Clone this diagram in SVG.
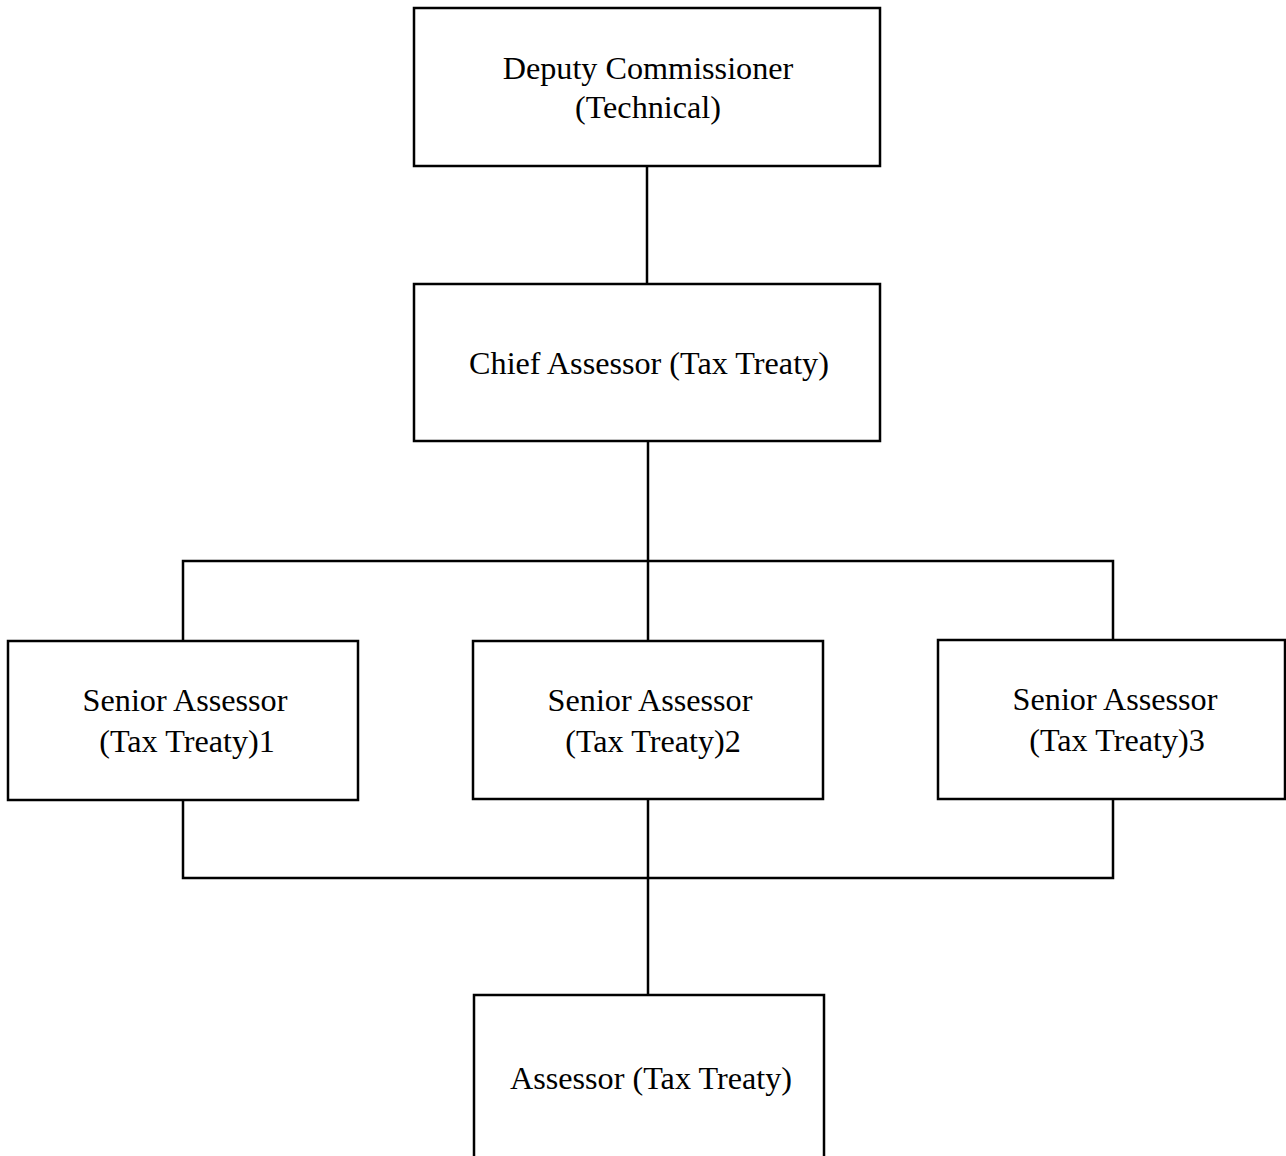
<svg xmlns="http://www.w3.org/2000/svg" width="1286" height="1156" viewBox="0 0 1286 1156">
<style>
.box{fill:#fff;stroke:#000;stroke-width:2.5}
.lbl{font-family:"Liberation Serif","Times New Roman",serif;font-size:32.2px;fill:#000;text-anchor:middle}
.conn{stroke:#000;stroke-width:2.5;fill:none}
</style>
<rect width="1286" height="1156" fill="#fff"/>
<g id="connectors">
<line class="conn" x1="647" y1="166" x2="647" y2="284"/>
<line class="conn" x1="648" y1="441" x2="648" y2="641"/>
<polyline class="conn" points="183,641 183,561 1113,561 1113,640"/>
<polyline class="conn" points="183,800 183,878 1113,878 1113,799"/>
<line class="conn" x1="648" y1="799" x2="648" y2="995"/>
</g>
<g id="deputy">
<rect class="box" x="414" y="8" width="466" height="158"/>
<text class="lbl" x="648" y="79">Deputy Commissioner</text>
<text class="lbl" x="648" y="118">(Technical)</text>
</g>
<g id="chief">
<rect class="box" x="414" y="284" width="466" height="157"/>
<text class="lbl" x="649" y="374">Chief Assessor (Tax Treaty)</text>
</g>
<g id="senior1">
<rect class="box" x="8" y="641" width="350" height="159"/>
<text class="lbl" x="185" y="711">Senior Assessor</text>
<text class="lbl" x="187" y="752">(Tax Treaty)1</text>
</g>
<g id="senior2">
<rect class="box" x="473" y="641" width="350" height="158"/>
<text class="lbl" x="650" y="711">Senior Assessor</text>
<text class="lbl" x="653" y="752">(Tax Treaty)2</text>
</g>
<g id="senior3">
<rect class="box" x="938" y="640" width="347" height="159"/>
<text class="lbl" x="1115" y="710">Senior Assessor</text>
<text class="lbl" x="1117" y="751">(Tax Treaty)3</text>
</g>
<g id="assessor">
<rect class="box" x="474" y="995" width="350" height="175"/>
<text class="lbl" x="651" y="1089">Assessor (Tax Treaty)</text>
</g>
</svg>
